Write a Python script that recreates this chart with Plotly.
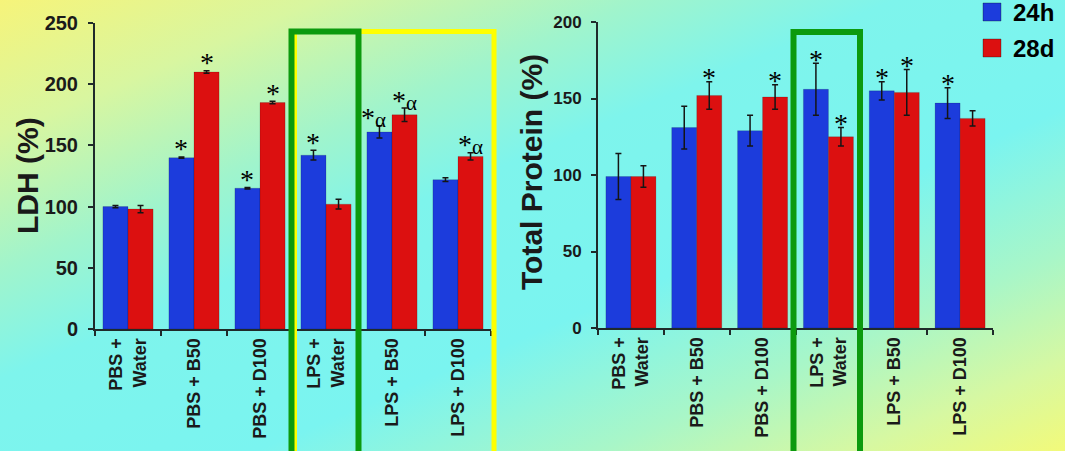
import base64
import plotly.graph_objects as go

# ---------------- data ----------------
categories = ["PBS +<br>Water", "PBS + B50", "PBS + D100", "LPS +<br>Water", "LPS + B50", "LPS + D100"]
series_names = ["24h", "28d"]

ldh_24h = [100, 140, 115, 142, 161, 122]
ldh_24h_err = [1, 0.6, 0.6, 4, 5, 1.5]
ldh_28d = [98, 210, 185, 102, 175, 141]
ldh_28d_err = [3, 1, 1, 4, 5.5, 3]
ldh_24h_sig = ["", "*", "*", "*", "*α", ""]
ldh_28d_sig = ["", "*", "*", "", "*α", "*α"]

tp_24h = [99, 131, 129, 156, 155, 147]
tp_24h_err = [15, 14, 10, 17, 6, 10]
tp_28d = [99, 152, 151, 125, 154, 137]
tp_28d_err = [7, 9, 8, 6, 15, 5]
tp_24h_sig = ["", "", "", "*", "*", "*"]
tp_28d_sig = ["", "*", "*", "*", "*", ""]

ldh_ticks = [0, 50, 100, 150, 200, 250]
tp_ticks = [0, 50, 100, 150, 200]

# ---------------- style ----------------
W, H = 1065, 451
BLUE = "#1c3cdc"
RED = "#dc1010"
AX = "#1f2a2a"
TXT = "#1a1a1a"
SANS = "Arial, Liberation Sans, sans-serif"
SERIF = "Liberation Serif, Times New Roman, serif"

svg = f"""<svg xmlns='http://www.w3.org/2000/svg' width='{W}' height='{H}' viewBox='0 0 {W} {H}' preserveAspectRatio='none'>
<defs><linearGradient id='g' x1='0' y1='0' x2='1' y2='1'>
<stop offset='0' stop-color='#f6f47a'/>
<stop offset='0.15' stop-color='#d8f6a0'/>
<stop offset='0.30' stop-color='#a0f4cc'/>
<stop offset='0.42' stop-color='#7ef4ec'/>
<stop offset='0.62' stop-color='#7af4f0'/>
<stop offset='0.78' stop-color='#a8f6c8'/>
<stop offset='0.90' stop-color='#d6f8a2'/>
<stop offset='1' stop-color='#f2fa7a'/>
</linearGradient></defs>
<rect x='0' y='0' width='{W}' height='{H}' fill='url(#g)'/></svg>"""
bg_uri = "data:image/svg+xml;base64," + base64.b64encode(svg.encode()).decode()


def px(x):
    return x / W


def py(y):
    return 1 - y / H


def sig_text(s):
    # asterisk at full size, alpha slightly smaller
    return s.replace("α", "<span style='font-size:21px'>α</span>")


fig = go.Figure()

panels = [
    ("x", "y", ldh_24h, ldh_24h_err, ldh_28d, ldh_28d_err, ldh_24h_sig, ldh_28d_sig, 8),
    ("x2", "y2", tp_24h, tp_24h_err, tp_28d, tp_28d_err, tp_24h_sig, tp_28d_sig, 4),
]

annotations = []
for xa, ya, v1, e1, v2, e2, s1, s2, shift in panels:
    for name, vals, errs, col in [(series_names[0], v1, e1, BLUE), (series_names[1], v2, e2, RED)]:
        fig.add_trace(go.Bar(
            x=categories, y=vals, name=name, xaxis=xa, yaxis=ya,
            marker=dict(color=col, line=dict(color="rgba(0,0,0,0.25)", width=0.6)),
            error_y=dict(type="data", array=errs, visible=True, color="#151515",
                         thickness=1.5, width=3),
            showlegend=False,
        ))
    for vals, errs, sigs, off in [(v1, e1, s1, -0.19), (v2, e2, s2, 0.19)]:
        for i, s in enumerate(sigs):
            if not s:
                continue
            xs = -6 if (s == "*α" and off < 0) else 0
            annotations.append(dict(
                x=i + off, y=vals[i] + errs[i], xref=xa, yref=ya, text=sig_text(s),
                showarrow=False, yanchor="middle", xanchor="center",
                yshift=shift, xshift=xs,
                font=dict(family=SERIF, size=28, color="#000"),
            ))

axis_common = dict(showline=True, linecolor=AX, linewidth=2, ticks="outside",
                   tickcolor=AX, tickwidth=2, ticklen=5, showgrid=False,
                   zeroline=False, automargin=False)

fig.update_layout(
    width=W, height=H,
    margin=dict(l=0, r=0, t=0, b=0),
    paper_bgcolor="#7af4f0",
    plot_bgcolor="rgba(0,0,0,0)",
    barmode="group", bargap=0.24, bargroupgap=0,
    xaxis=dict(domain=[px(95), px(491)], anchor="y", type="category",
               tickson="boundaries", tickangle=-90,
               tickfont=dict(family=SANS, size=18, color=TXT, weight="bold"), **axis_common),
    yaxis=dict(domain=[py(329), py(23)], anchor="x", range=[0, 250],
               tickvals=ldh_ticks, ticklabelstandoff=6,
               tickfont=dict(family=SANS, size=20, color=TXT, weight="bold"), **axis_common),
    xaxis2=dict(domain=[px(598), px(993)], anchor="y2", type="category",
                tickson="boundaries", tickangle=-90,
                tickfont=dict(family=SANS, size=18, color=TXT, weight="bold"), **axis_common),
    yaxis2=dict(domain=[py(328), py(22)], anchor="x2", range=[0, 200],
                tickvals=tp_ticks, ticklabelstandoff=6,
                tickfont=dict(family=SANS, size=17, color=TXT, weight="bold"), **axis_common),
    images=[dict(source=bg_uri, xref="paper", yref="paper", x=0, y=1,
                 sizex=1, sizey=1, xanchor="left", yanchor="top",
                 sizing="stretch", layer="below")],
)

# axis titles
annotations.append(dict(x=px(27), y=py(176), xref="paper", yref="paper",
                        xanchor="center", yanchor="middle",
                        text="<b>LDH (%)</b>", textangle=-90, showarrow=False,
                        font=dict(family=SANS, size=30, color=TXT)))
annotations.append(dict(x=px(531), y=py(172), xref="paper", yref="paper",
                        xanchor="center", yanchor="middle",
                        text="<b>Total Protein (%)</b>", textangle=-90, showarrow=False,
                        font=dict(family=SANS, size=30, color=TXT)))

# legend (manual)
shapes = []
for (name, col, yc) in [(series_names[0], BLUE, 12), (series_names[1], RED, 48)]:
    shapes.append(dict(type="rect", xref="paper", yref="paper",
                       x0=px(983), x1=px(1001), y0=py(yc + 9), y1=py(yc - 9),
                       fillcolor=col, line=dict(color="rgba(0,0,0,0.3)", width=1)))
    annotations.append(dict(x=px(1011), y=py(yc), xref="paper", yref="paper",
                            text=f"<b>{name}</b>", showarrow=False, xanchor="left",
                            yanchor="middle", font=dict(family=SANS, size=24, color="#000")))

# highlight boxes
GREEN = "#0c9a0e"
YELLOW = "#ffff00"
shapes.append(dict(type="rect", xref="paper", yref="paper",
                   x0=px(294.5), x1=px(494), y0=py(31.5), y1=py(470),
                   line=dict(color=YELLOW, width=5), fillcolor="rgba(0,0,0,0)"))
shapes.append(dict(type="rect", xref="paper", yref="paper",
                   x0=px(291.5), x1=px(358.5), y0=py(31.5), y1=py(470),
                   line=dict(color=GREEN, width=6), fillcolor="rgba(0,0,0,0)"))
shapes.append(dict(type="rect", xref="paper", yref="paper",
                   x0=px(793.5), x1=px(860), y0=py(32), y1=py(470),
                   line=dict(color=GREEN, width=6), fillcolor="rgba(0,0,0,0)"))

fig.update_layout(annotations=annotations, shapes=shapes)
fig.write_html("out.html", config={"displayModeBar": False},
               post_script="document.body.style.margin='0';document.body.style.overflow='hidden';")
